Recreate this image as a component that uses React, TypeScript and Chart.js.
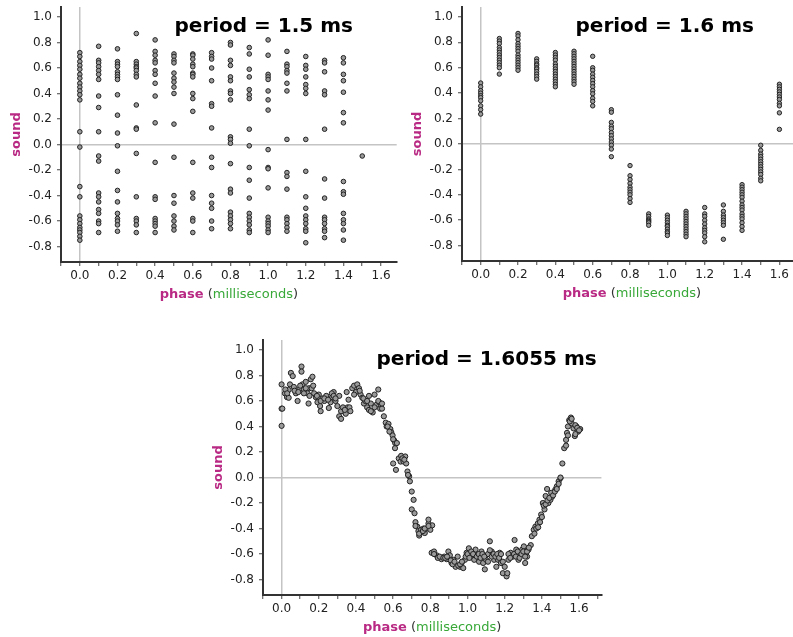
import { useEffect, useRef } from 'react';
import { Chart, registerables } from 'chart.js';

Chart.register(...registerables);

const FONT = '"DejaVu Sans", Verdana, sans-serif';
const MAGENTA = '#b92a84';
const GREEN = '#38a838';

// ---------- period = 1.5 ms ----------
const phase15 = [0, 0.1, 0.2, 0.3, 0.4, 0.5, 0.6, 0.7, 0.8, 0.9, 1.0, 1.1, 1.2, 1.3, 1.4, 1.5];
const sound15 = [
  [0.72, 0.69, 0.65, 0.62, 0.59, 0.55, 0.52, 0.48, 0.45, 0.42, 0.39, 0.35, 0.10, -0.02, -0.33, -0.41, -0.56, -0.59, -0.62, -0.65, -0.67, -0.69, -0.72, -0.75],
  [0.77, 0.66, 0.64, 0.61, 0.58, 0.55, 0.51, 0.38, 0.29, 0.10, -0.09, -0.13, -0.38, -0.41, -0.45, -0.51, -0.54, -0.60, -0.62, -0.69],
  [0.75, 0.65, 0.63, 0.61, 0.57, 0.55, 0.53, 0.51, 0.39, 0.23, 0.09, -0.01, -0.21, -0.36, -0.45, -0.54, -0.58, -0.60, -0.63, -0.68],
  [0.87, 0.65, 0.63, 0.61, 0.60, 0.58, 0.55, 0.53, 0.31, 0.13, 0.12, -0.07, -0.41, -0.58, -0.60, -0.63, -0.69],
  [0.82, 0.73, 0.70, 0.66, 0.64, 0.58, 0.55, 0.48, 0.38, 0.17, -0.14, -0.41, -0.43, -0.58, -0.60, -0.62, -0.64, -0.69],
  [0.71, 0.69, 0.66, 0.64, 0.56, 0.52, 0.49, 0.45, 0.40, 0.16, -0.10, -0.40, -0.46, -0.56, -0.60, -0.64, -0.67],
  [0.71, 0.70, 0.67, 0.63, 0.61, 0.56, 0.55, 0.53, 0.40, 0.36, 0.26, -0.14, -0.38, -0.42, -0.58, -0.60, -0.69],
  [0.72, 0.69, 0.67, 0.60, 0.50, 0.32, 0.30, 0.13, -0.10, -0.18, -0.40, -0.46, -0.50, -0.60, -0.66],
  [0.80, 0.78, 0.66, 0.62, 0.53, 0.50, 0.42, 0.40, 0.35, 0.06, 0.04, 0.01, -0.15, -0.35, -0.38, -0.53, -0.56, -0.59, -0.62, -0.66],
  [0.76, 0.71, 0.59, 0.53, 0.43, 0.39, 0.36, 0.12, -0.01, -0.18, -0.28, -0.42, -0.54, -0.57, -0.60, -0.63, -0.67, -0.69],
  [0.82, 0.70, 0.55, 0.53, 0.51, 0.42, 0.35, 0.27, -0.04, -0.18, -0.19, -0.34, -0.57, -0.60, -0.62, -0.64, -0.67, -0.69],
  [0.73, 0.63, 0.61, 0.58, 0.56, 0.48, 0.42, 0.04, -0.22, -0.25, -0.35, -0.57, -0.59, -0.62, -0.65, -0.68],
  [0.69, 0.62, 0.59, 0.53, 0.47, 0.44, 0.40, 0.04, -0.21, -0.41, -0.50, -0.56, -0.59, -0.62, -0.66, -0.68, -0.77],
  [0.66, 0.64, 0.57, 0.42, 0.39, 0.12, -0.27, -0.42, -0.57, -0.59, -0.62, -0.66, -0.68, -0.73],
  [0.68, 0.64, 0.55, 0.50, 0.41, 0.25, 0.17, -0.29, -0.37, -0.39, -0.54, -0.59, -0.62, -0.67, -0.75],
  [-0.09],
];

// ---------- period = 1.6 ms ----------
const phase16 = [0, 0.1, 0.2, 0.3, 0.4, 0.5, 0.6, 0.7, 0.8, 0.9, 1.0, 1.1, 1.2, 1.3, 1.4, 1.5, 1.6];
const sound16 = [
  [0.48, 0.45, 0.42, 0.40, 0.38, 0.365, 0.34, 0.30, 0.27, 0.235],
  [0.83, 0.81, 0.79, 0.76, 0.74, 0.72, 0.70, 0.68, 0.66, 0.64, 0.62, 0.60, 0.55],
  [0.87, 0.85, 0.82, 0.79, 0.77, 0.75, 0.73, 0.70, 0.68, 0.66, 0.64, 0.62, 0.60, 0.58],
  [0.67, 0.65, 0.63, 0.62, 0.60, 0.59, 0.57, 0.55, 0.53, 0.51],
  [0.72, 0.70, 0.68, 0.66, 0.63, 0.61, 0.59, 0.57, 0.55, 0.53, 0.51, 0.49, 0.47, 0.45],
  [0.73, 0.71, 0.69, 0.67, 0.65, 0.63, 0.61, 0.59, 0.57, 0.55, 0.53, 0.51, 0.49, 0.47],
  [0.69, 0.60, 0.58, 0.55, 0.525, 0.50, 0.475, 0.45, 0.42, 0.395, 0.36, 0.335, 0.30],
  [0.27, 0.25, 0.17, 0.14, 0.12, 0.09, 0.065, 0.04, 0.015, -0.01, -0.04, -0.10],
  [-0.17, -0.25, -0.28, -0.31, -0.34, -0.36, -0.38, -0.40, -0.43, -0.46],
  [-0.55, -0.57, -0.59, -0.60, -0.61, -0.62, -0.64],
  [-0.56, -0.58, -0.60, -0.62, -0.64, -0.65, -0.67, -0.69, -0.70, -0.72],
  [-0.53, -0.55, -0.57, -0.59, -0.61, -0.63, -0.65, -0.67, -0.69, -0.71, -0.73],
  [-0.50, -0.55, -0.57, -0.60, -0.63, -0.66, -0.68, -0.70, -0.73, -0.77],
  [-0.48, -0.53, -0.56, -0.58, -0.60, -0.62, -0.64, -0.75],
  [-0.32, -0.34, -0.36, -0.38, -0.40, -0.42, -0.45, -0.48, -0.50, -0.52, -0.55, -0.57, -0.59, -0.62, -0.65, -0.68],
  [-0.01, -0.05, -0.08, -0.10, -0.12, -0.14, -0.16, -0.18, -0.20, -0.22, -0.24, -0.27, -0.29],
  [0.47, 0.45, 0.43, 0.41, 0.39, 0.37, 0.35, 0.32, 0.30, 0.245, 0.115],
];

// ---------- period = 1.6055 ms ----------
const phase16055 = [
  0, 0, 0.004, 0, 0.018, 0.029, 0.038, 0.038, 0.05, 0.06, 0.045, 0.066, 0.077, 0.086, 0.095, 0.107, 0.107, 0.112, 0.12, 0.13,
  0.14, 0.145, 0.148, 0.157, 0.166, 0.162, 0.175, 0.184, 0.193, 0.2, 0.207, 0.21, 0.22, 0.23, 0.24, 0.254, 0.263, 0.272, 0.28, 0.29,
  0.3, 0.31, 0.31, 0.32, 0.33, 0.345, 0.35, 0.355, 0.36, 0.365, 0.38, 0.39, 0.4, 0.407, 0.416, 0.425, 0.434, 0.443, 0.45, 0.46,
  0.47, 0.47, 0.48, 0.49, 0.5, 0.51, 0.52, 0.525, 0.53, 0.54, 0.55, 0.56, 0.565, 0.575, 0.585, 0.59, 0.597, 0.606, 0.61, 0.611,
  0.6, 0.615, 0.63, 0.64, 0.643, 0.656, 0.665, 0.67, 0.677, 0.686, 0.69, 0.7, 0.71, 0.7, 0.715, 0.72, 0.73, 0.736, 0.74, 0.75,
  0.763, 0.77, 0.78, 0.79, 0.79, 0.8, 0.81, 0.807, 0.82, 0.834, 0.847, 0.86, 0.875, 0.888, 0.897, 0.905, 0.914, 0.923, 0.936, 0.947,
  0.96, 0.968, 0.977, 0.986, 0.995, 1.007, 1.018, 1.025, 1.036, 1.043, 1.053, 1.062, 1.075, 1.084, 1.093, 1.1, 1.11, 1.12, 1.13, 1.143,
  1.155, 1.164, 1.173, 1.18, 1.19, 1.2, 1.21, 1.214, 1.22, 1.232, 1.244, 1.253, 1.262, 1.274, 1.285, 1.294, 1.303, 1.31, 1.32, 1.328,
  1.34, 1.346, 1.356, 1.365, 1.378, 1.387, 1.396, 1.405, 1.414, 1.42, 1.428, 1.435, 1.446, 1.455, 1.463, 1.472, 1.48, 1.49, 1.5, 1.51,
  1.52, 1.53, 1.535, 1.54, 1.547, 1.556, 1.56, 1.57, 1.577, 1.586, 1.595, 1.606,
  0.82, 0.84, 0.85, 0.87, 0.88, 0.89, 0.91, 0.92, 0.93, 0.95, 0.96, 0.97, 0.99, 1.0, 1.01, 1.02, 1.03, 1.05, 1.06, 1.07,
  1.08, 1.09, 1.11, 1.12, 1.13, 1.14, 1.15, 1.16, 1.17, 1.18, 1.19, 1.22, 1.23, 1.25, 1.26, 1.27, 1.28, 1.29, 1.3, 1.31,
  1.32, 1.33,
  0.02, 0.03, 0.07, 0.09, 0.1, 0.12, 0.13, 0.15, 0.17, 0.19, 0.21, 0.23, 0.25, 0.27, 0.28, 0.29, 0.32, 0.33, 0.34, 0.37,
  0.39, 0.42, 0.44, 0.46, 0.48, 0.5, 0.52, 0.54, 0.57, 0.58, 0.6, 0.62, 0.65, 0.66, 0.68, 0.72, 0.74, 0.76, 0.77, 0.79,
  1.36, 1.37, 1.38, 1.39, 1.4, 1.41, 1.42, 1.43, 1.44, 1.45, 1.46, 1.47, 1.48, 1.49, 1.5, 1.53, 1.54, 1.55, 1.56, 1.58,
  1.59, 1.6, 1.58,
];
const sound16055 = [
  0.73, 0.54, 0.54, 0.405, 0.66, 0.63, 0.686, 0.625, 0.82, 0.795, 0.73, 0.71, 0.66, 0.6, 0.69, 0.87, 0.83, 0.73, 0.69, 0.75,
  0.66, 0.58, 0.7, 0.77, 0.79, 0.7, 0.66, 0.63, 0.59, 0.65, 0.56, 0.52, 0.62, 0.6, 0.64, 0.545, 0.59, 0.63, 0.67, 0.6,
  0.56, 0.64, 0.48, 0.46, 0.52, 0.5, 0.67, 0.55, 0.61, 0.55, 0.7, 0.72, 0.67, 0.73, 0.7, 0.65, 0.625, 0.58, 0.6, 0.55,
  0.64, 0.53, 0.58, 0.51, 0.65, 0.57, 0.69, 0.59, 0.54, 0.54, 0.48, 0.43, 0.4, 0.42, 0.38, 0.355, 0.33, 0.29, 0.23, 0.27,
  0.11, 0.06, 0.15, 0.125, 0.17, 0.125, 0.165, 0.11, 0.047, 0.01, -0.03, -0.11, -0.175, -0.25, -0.28, -0.35, -0.385, -0.42, -0.455, -0.41,
  -0.4, -0.435, -0.4, -0.36, -0.33, -0.41, -0.375, -0.59, -0.58, -0.61, -0.625, -0.64, -0.62, -0.64, -0.58, -0.61, -0.67, -0.645, -0.7, -0.62,
  -0.7, -0.67, -0.71, -0.645, -0.59, -0.555, -0.62, -0.59, -0.645, -0.565, -0.605, -0.66, -0.58, -0.67, -0.72, -0.645, -0.6, -0.5, -0.58, -0.645,
  -0.7, -0.645, -0.59, -0.67, -0.75, -0.7, -0.775, -0.75, -0.645, -0.59, -0.62, -0.49, -0.565, -0.645, -0.6, -0.565, -0.54, -0.67, -0.62, -0.565,
  -0.53, -0.46, -0.41, -0.385, -0.36, -0.33, -0.29, -0.2, -0.25, -0.145, -0.09, -0.2, -0.175, -0.15, -0.12, -0.095, -0.07, -0.03, -0.005, 0.11,
  0.23, 0.295, 0.35, 0.4, 0.45, 0.47, 0.425, 0.385, 0.325, 0.4, 0.36, 0.38,
  -0.6, -0.63, -0.62, -0.63, -0.63, -0.62, -0.65, -0.68, -0.66, -0.69, -0.68, -0.66, -0.62, -0.6, -0.63, -0.58, -0.6, -0.62, -0.6, -0.63,
  -0.6, -0.62, -0.66, -0.57, -0.62, -0.6, -0.62, -0.6, -0.63, -0.6, -0.66, -0.6, -0.63, -0.6, -0.62, -0.58, -0.63, -0.6, -0.58, -0.62,
  -0.58, -0.55,
  0.69, 0.66, 0.68, 0.67, 0.72, 0.66, 0.7, 0.64, 0.72, 0.64, 0.6, 0.62, 0.61, 0.66, 0.64, 0.62, 0.52, 0.55, 0.53, 0.52,
  0.65, 0.68, 0.62, 0.6, 0.52, 0.55, 0.6, 0.58, 0.4, 0.36, 0.3, 0.27, 0.15, 0.14, 0.02, -0.38, -0.44, -0.42, -0.4, -0.38,
  -0.44, -0.4, -0.39, -0.35, -0.31, -0.22, -0.21, -0.18, -0.16, -0.12, -0.14, -0.11, -0.09, -0.05, 0.0, 0.25, 0.33, 0.44, 0.46, 0.41,
  0.39, 0.37, 0.34,
];

const TITLES = ['period = 1.5 ms', 'period = 1.6 ms', 'period = 1.6055 ms'];

type Pt = { x: number; y: number };
const fromColumns = (xs: number[], cols: number[][]): Pt[] =>
  xs.flatMap((x, i) => cols[i].map((y) => ({ x, y })));
const fromPairs = (xs: number[], ys: number[]): Pt[] => xs.map((x, i) => ({ x, y: ys[i] }));

const textPlugin = {
  id: 'panelText',
  afterDraw(chart: any, _args: any, opts: any) {
    const { ctx, chartArea: a } = chart;
    ctx.save();
    ctx.font = `bold 20px ${FONT}`;
    ctx.fillStyle = '#000';
    ctx.textAlign = 'left';
    ctx.textBaseline = 'alphabetic';
    ctx.fillText(opts.title, a.left + 113.5, a.top + 25);
    ctx.restore();

    ctx.save();
    ctx.translate(a.left - 44, (a.top + a.bottom) / 2);
    ctx.rotate(-Math.PI / 2);
    ctx.font = `bold 13px ${FONT}`;
    ctx.fillStyle = MAGENTA;
    ctx.textAlign = 'center';
    ctx.textBaseline = 'middle';
    ctx.fillText('sound', 0, 0);
    ctx.restore();

    ctx.save();
    const parts = [
      { t: 'phase', f: `bold 13px ${FONT}`, c: MAGENTA },
      { t: ' (', f: `13px ${FONT}`, c: '#333' },
      { t: 'milliseconds', f: `13px ${FONT}`, c: GREEN },
      { t: ')', f: `13px ${FONT}`, c: '#333' },
    ];
    let total = 0;
    const widths = parts.map((p) => {
      ctx.font = p.f;
      const w = ctx.measureText(p.t).width;
      total += w;
      return w;
    });
    let x = (a.left + a.right) / 2 - total / 2;
    const y = a.bottom + 35.5;
    ctx.textAlign = 'left';
    ctx.textBaseline = 'alphabetic';
    parts.forEach((p, i) => {
      ctx.font = p.f;
      ctx.fillStyle = p.c;
      ctx.fillText(p.t, x, y);
      x += widths[i];
    });
    ctx.restore();
  },
};

type PanelProps = {
  points: Pt[];
  title: string;
  left: number;
  top: number;
  width: number;
  height: number;
  pad: { left: number; top: number; right: number; bottom: number };
  yWidth: number;
  xHeight: number;
  xMax: number;
  radius: number;
};

function Panel(p: PanelProps) {
  const ref = useRef<HTMLCanvasElement>(null);
  useEffect(() => {
    const zeroPad = (s: any) => {
      s.paddingLeft = 0;
      s.paddingRight = 0;
      s.paddingTop = 0;
      s.paddingBottom = 0;
    };
    const gridColor = (c: any) => (c.tick && Math.abs(c.tick.value) < 1e-9 ? '#c4c4c4' : 'rgba(0,0,0,0)');
    const chart = new Chart(ref.current as HTMLCanvasElement, {
      type: 'scatter',
      data: {
        datasets: [
          {
            data: p.points,
            pointRadius: p.radius,
            pointHoverRadius: p.radius,
            pointBackgroundColor: '#9a9a9a',
            pointBorderColor: '#222',
            pointBorderWidth: 1,
          },
        ],
      },
      options: {
        responsive: false,
        animation: false,
        events: [],
        layout: { padding: p.pad },
        plugins: {
          legend: { display: false },
          tooltip: { enabled: false },
          panelText: { title: p.title },
        } as any,
        scales: {
          x: {
            type: 'linear',
            min: -0.1,
            max: p.xMax,
            afterFit: (s: any) => {
              s.height = p.xHeight;
              zeroPad(s);
            },
            ticks: {
              stepSize: 0.1,
              includeBounds: false,
              padding: 3,
              maxRotation: 0,
              autoSkip: false,
              color: '#222',
              font: { family: FONT, size: 12 },
              callback: (v: any) => (Math.round(Number(v) * 10) % 2 === 0 ? Number(v).toFixed(1) : ''),
            },
            grid: {
              color: gridColor,
              lineWidth: 1.5,
              tickColor: '#444',
              tickLength: 4,
              tickWidth: 1,
            },
            border: { display: true, color: '#333', width: 2 },
          },
          y: {
            type: 'linear',
            min: -0.921,
            max: 1.078,
            afterFit: (s: any) => {
              s.width = p.yWidth;
              zeroPad(s);
            },
            ticks: {
              stepSize: 0.2,
              includeBounds: false,
              padding: 5,
              autoSkip: false,
              color: '#222',
              font: { family: FONT, size: 12 },
              callback: (v: any) => Number(v).toFixed(1),
            },
            grid: {
              color: gridColor,
              lineWidth: 1.5,
              tickColor: '#444',
              tickLength: 4,
              tickWidth: 1,
            },
            border: { display: true, color: '#333', width: 2 },
          },
        },
      } as any,
      plugins: [textPlugin],
    });
    return () => chart.destroy();
  }, []);
  return (
    <canvas
      ref={ref}
      width={p.width}
      height={p.height}
      style={{ position: 'absolute', left: p.left, top: p.top }}
    />
  );
}

export default function App() {
  return (
    <div
      style={{
        position: 'absolute',
        left: 0,
        top: 0,
        width: 793,
        height: 637,
        overflow: 'hidden',
        background: '#fff',
      }}
    >
      <Panel
        points={fromColumns(phase15, sound15)}
        title={TITLES[0]}
        left={0}
        top={0}
        width={400}
        height={310}
        pad={{ left: 0, top: 7, right: 2, bottom: 0 }}
        yWidth={61}
        xHeight={48}
        xMax={1.683}
        radius={2.3}
      />
      <Panel
        points={fromColumns(phase16, sound16)}
        title={TITLES[1]}
        left={400}
        top={0}
        width={405}
        height={310}
        pad={{ left: 0, top: 7, right: 0, bottom: 0 }}
        yWidth={62}
        xHeight={49}
        xMax={1.72}
        radius={2.2}
      />
      <Panel
        points={fromPairs(phase16055, sound16055)}
        title={TITLES[2]}
        left={200}
        top={330}
        width={405}
        height={307}
        pad={{ left: 0, top: 10, right: 2, bottom: 0 }}
        yWidth={63}
        xHeight={42}
        xMax={1.72}
        radius={2.6}
      />
    </div>
  );
}
